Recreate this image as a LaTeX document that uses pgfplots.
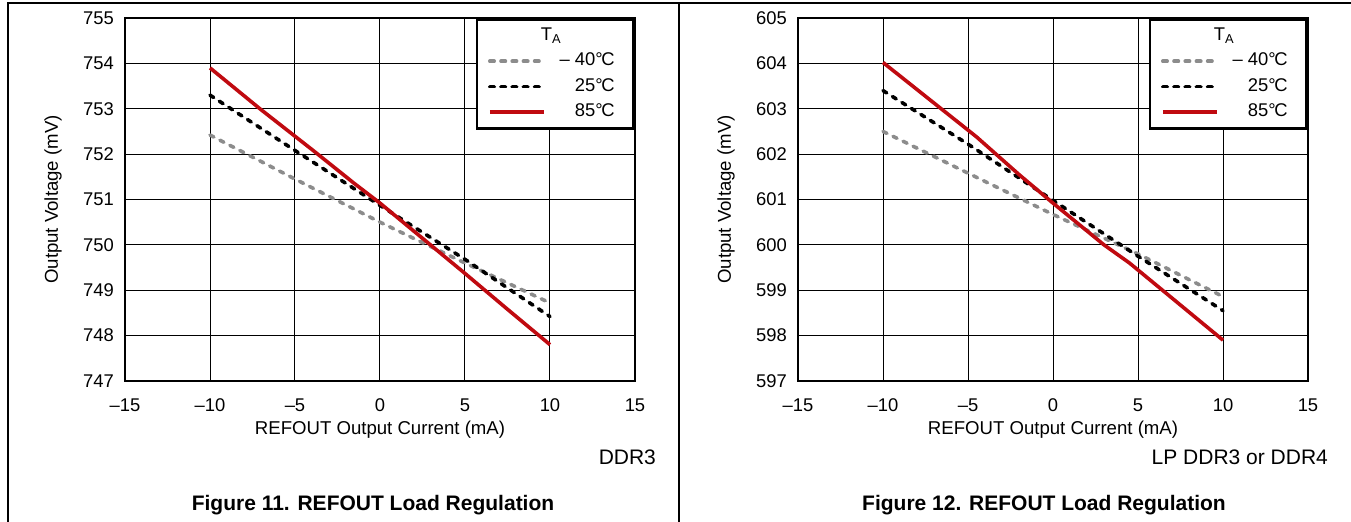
\documentclass[border=0pt]{standalone}
\usepackage{fontspec}
\setmainfont{Liberation Sans}
\usepackage{pgfplots}
\pgfplotsset{compat=1.18}

\definecolor{cold}{RGB}{140,140,140}
\definecolor{hotred}{RGB}{192,10,16}

\pgfplotsset{
  refout/.style={
    scale only axis, width=255pt, height=181.5pt,
    xmin=-15, xmax=15, xtick={-15,-10,...,15},
    xticklabels={\textendash15,\textendash10,\textendash5,0,5,10,15},
    ytick distance=1,
    grid=major, major grid style={black, line width=0.5pt},
    axis line style={line width=1.4pt},
    major tick length=0pt,
    tick label style={font=\fontsize{9.2}{10}\selectfont},
    xticklabel style={yshift=-5.5pt},
    yticklabel style={xshift=-2pt},
    /pgf/number format/assume math mode=true,
    label style={font=\fontsize{9.3}{11}\selectfont},
    xlabel={REFOUT Output Current (mA)},
    ylabel={Output Voltage (mV)},
    xlabel style={at={(axis description cs:0.5,-0.135)}, anchor=center},
    ylabel style={at={(axis description cs:-0.141,0.5)}, anchor=center},
    legend cell align=right,
    legend image code/.code={\draw[#1] (0pt,0pt) -- (27pt,0pt);},
    legend style={at={(1,1)}, anchor=north east, draw=black, line width=1.4pt,
      inner xsep=5.5pt, inner ysep=3pt, row sep=2.2pt, column sep=7pt,
      font=\fontsize{9.2}{10}\selectfont,
      nodes={inner xsep=0pt, inner ysep=0.5pt, text height=7pt, text depth=2.5pt}},
  },
  tcold/.style={cold, line width=1.8pt, line cap=round, dash pattern=on 2.2pt off 3.4pt},
  troom/.style={black, line width=1.8pt, line cap=round, dash pattern=on 2.2pt off 3.4pt},
  thot/.style={hotred, line width=1.8pt},
}

\newcommand{\tatitle}{\addlegendimage{empty legend}
  \addlegendentry{\makebox[0pt][r]{T\textsubscript{A}\hspace*{30pt}}}}

\begin{document}
\begin{tikzpicture}[x=0.5pt, y=0.5pt]
\useasboundingbox (0,0) rectangle (1351,522);
\draw[line width=1pt] (8,0) -- (8,519) -- (1351,519);
\draw[line width=1pt] (679,519) -- (679,0);

% DDR3
\begin{axis}[refout, at={(62.5pt,70.5pt)}, anchor=south west, ymin=747, ymax=755]
\tatitle
\addplot[tcold] coordinates {(-10,752.42) (-5,751.45) (0,750.5) (5,749.6) (10,748.72)};
\addlegendentry{\textendash\ 40°\kern-0.08em C\hspace*{4pt}}
\addplot[troom] coordinates {(-10,753.3) (-5,752.08) (0,750.87) (5,749.68) (10,748.42)};
\addlegendentry{25°\kern-0.08em C\hspace*{4pt}}
\addplot[thot] coordinates {(-10,753.9) (-7,752.98) (-4,752.1) (-1.5,751.35) (0,750.92)
  (2,750.3) (5,749.37) (7.5,748.58) (10,747.8)};
\addlegendentry{85°\kern-0.08em C\hspace*{4pt}}
\end{axis}

% LP DDR3 or DDR4
\begin{axis}[refout, at={(399pt,70.5pt)}, anchor=south west, ymin=597, ymax=605]
\tatitle
\addplot[tcold] coordinates {(-10,602.5) (-5,601.58) (0,600.67) (5,599.8) (10,598.86)};
\addlegendentry{\textendash\ 40°\kern-0.08em C\hspace*{4pt}}
\addplot[troom] coordinates {(-10,603.4) (-5,602.22) (0,600.98) (5,599.75) (10,598.55)};
\addlegendentry{25°\kern-0.08em C\hspace*{4pt}}
\addplot[thot] coordinates {(-10,604.02) (-4.5,602.38) (-2,601.55) (0,600.92) (3,600.0)
  (4.5,599.6) (10,597.9)};
\addlegendentry{85°\kern-0.08em C\hspace*{4pt}}
\end{axis}

\node[anchor=east, font=\fontsize{10.5}{12}\selectfont] at (663,65) {DDR3};
\node[anchor=east, font=\fontsize{10.5}{12}\selectfont] at (1335,65) {LP DDR3 or DDR4};
\node[font=\fontsize{10.5}{12}\selectfont\bfseries] at (373,17) {Figure 11. REFOUT Load Regulation};
\node[font=\fontsize{10.5}{12}\selectfont\bfseries] at (1044,17) {Figure 12. REFOUT Load Regulation};
\end{tikzpicture}
\end{document}
